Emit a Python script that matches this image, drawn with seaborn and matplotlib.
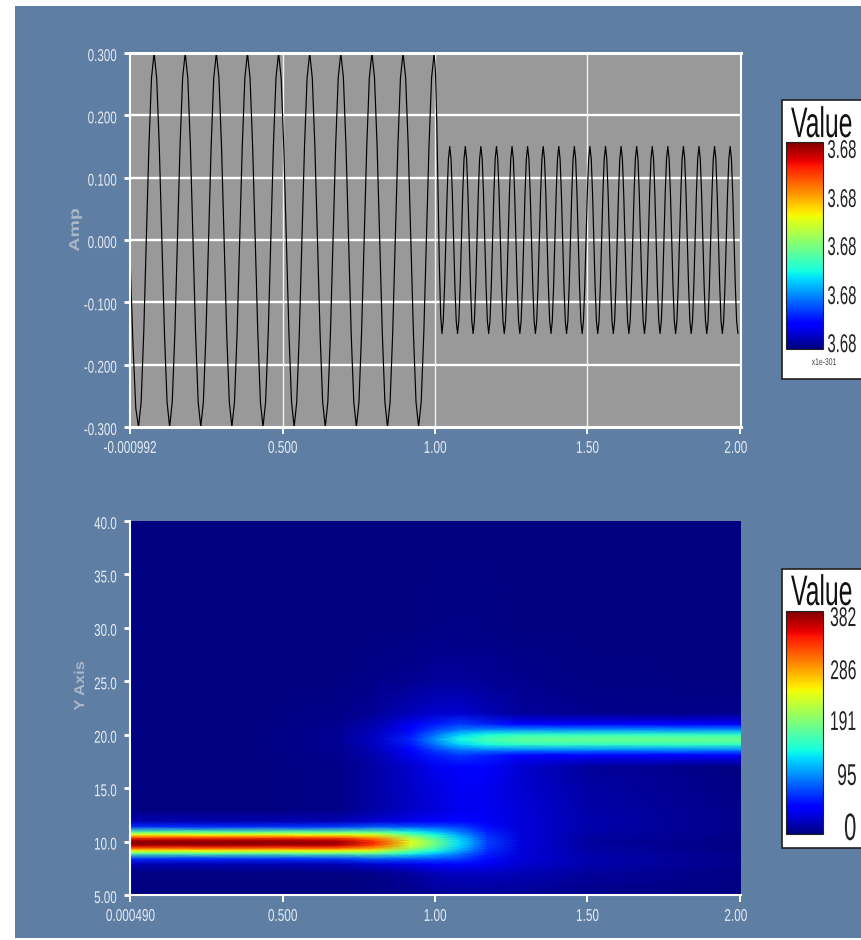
import numpy as np
import pandas as pd
import matplotlib
matplotlib.use("Agg")
import matplotlib.pyplot as plt
from matplotlib.patches import Rectangle
from matplotlib.cm import ScalarMappable
from matplotlib.colors import Normalize
from matplotlib.patheffects import AbstractPathEffect
from matplotlib.transforms import Affine2D
import seaborn as sns

# ---------- data ----------
lead_time = [0.0, 0.009, 0.018]
lead_amp = [-0.04, -0.17, -0.27]
low_step = 0.00851
low_cycle = [-0.30, -0.26, -0.15, 0.0, 0.15, 0.26, 0.30, 0.26, 0.15, 0.0, -0.15, -0.26]
low_first = 0.027
low_half_end = [-0.30, -0.26, -0.15, 0.0, 0.15, 0.26, 0.30]
low_cycles = 9
switch_step = 0.00425
switch_amp = [0.27, 0.19, 0.075, -0.04, -0.12, -0.15]
high_step = 0.00426
high_cycle = [-0.13, -0.075, 0.0, 0.075, 0.13, 0.15, 0.13, 0.075, 0.0, -0.075, -0.13, -0.15]
high_cycles = 19

x_ticks = [-0.000992, 0.5, 1.0, 1.5, 2.0]
x_labels_top = ["-0.000992", "0.500", "1.00", "1.50", "2.00"]
x_ticks_bot = [0.00049, 0.5, 1.0, 1.5, 2.0]
x_labels_bot = ["0.000490", "0.500", "1.00", "1.50", "2.00"]
y_ticks_top = [-0.3, -0.2, -0.1, 0.0, 0.1, 0.2, 0.3]
y_labels_top = ["-0.300", "-0.200", "-0.100", "0.000", "0.100", "0.200", "0.300"]
y_ticks_bot = [5, 10, 15, 20, 25, 30, 35, 40]
y_labels_bot = ["5.00", "10.0", "15.0", "20.0", "25.0", "30.0", "35.0", "40.0"]

heat_t = [0.0, 0.4, 0.68, 0.8, 0.92, 1.0, 1.08, 1.17, 1.28, 1.5, 2.01]
heat_y = [5, 7, 7.9, 8.4, 8.9, 9.15, 9.4, 9.65, 9.9, 10.15, 10.4, 10.65, 10.9, 11.4, 11.9,
          13, 15, 17, 18.1, 18.6, 19.1, 19.56, 20, 20.5, 21, 22, 25, 30, 40]
heat_z = [
    [0, 0, 0, 2, 4, 6, 8, 8, 6, 3, 0],
    [0, 0, 1, 4, 10, 18, 22, 22, 18, 9, 2],
    [17, 17, 19, 28, 36, 45, 50, 40, 28, 15, 3],
    [65, 65, 70, 82, 80, 78, 72, 52, 30, 15, 3],
    [176, 176, 178, 178, 145, 122, 95, 60, 30, 14, 3],
    [245, 245, 244, 234, 179, 146, 109, 64, 31, 13, 2],
    [313, 313, 310, 284, 209, 167, 120, 68, 32, 12, 2],
    [363, 363, 357, 317, 230, 180, 127, 70, 32, 11, 2],
    [382, 382, 375, 330, 237, 185, 130, 72, 32, 10, 1],
    [363, 363, 357, 317, 230, 180, 127, 70, 32, 11, 2],
    [313, 313, 310, 284, 209, 167, 120, 68, 32, 12, 2],
    [245, 245, 244, 234, 179, 146, 109, 64, 31, 13, 2],
    [176, 176, 178, 178, 145, 122, 95, 60, 30, 14, 3],
    [65, 65, 70, 82, 80, 78, 72, 52, 30, 15, 3],
    [17, 17, 19, 28, 36, 45, 50, 40, 30, 15, 3],
    [0, 0, 4, 12, 24, 30, 38, 38, 30, 14, 3],
    [0, 0, 4, 12, 24, 32, 40, 38, 28, 12, 2],
    [0, 0, 4, 12, 26, 38, 46, 42, 28, 10, 1],
    [0, 0, 5, 15, 38, 58, 70, 60, 46, 42, 42],
    [0, 0, 6, 18, 46, 72, 92, 98, 99, 99, 99],
    [0, 0, 7, 21, 56, 92, 126, 146, 156, 158, 158],
    [0, 0, 8, 23, 62, 104, 144, 168, 180, 184, 184],
    [0, 0, 7, 21, 56, 92, 126, 146, 156, 158, 158],
    [0, 0, 6, 18, 46, 72, 92, 98, 99, 99, 99],
    [0, 0, 5, 15, 38, 58, 70, 60, 46, 42, 42],
    [0, 0, 3, 8, 20, 26, 28, 18, 10, 5, 3],
    [0, 0, 1, 3, 7, 10, 10, 8, 5, 2, 0],
    [0, 0, 0, 0, 1, 2, 2, 2, 1, 0, 0],
    [0, 0, 0, 0, 0, 0, 0, 0, 0, 0, 0],
]
heat_max = 382

legend_top_labels = ["3.68", "3.68", "3.68", "3.68", "3.68"]
legend_top_pos = [0.019, 0.251, 0.488, 0.72, 0.957]
legend_top_sizes = [18.5, 18.5, 18.5, 18.5, 18.5]
legend_bot_labels = ["0", "95", "191", "286", "382"]
legend_bot_pos = [0.018, 0.256, 0.498, 0.726, 0.964]
legend_bot_sizes = [27.5, 21.6, 19.5, 19.5, 19.5]

# ---------- assemble the line ----------
amp_list = lead_amp + low_cycle * low_cycles + low_half_end + switch_amp
time_list = list(lead_time)
t = low_first
for _ in range(len(low_cycle) * low_cycles + len(low_half_end)):
    time_list.append(t)
    t += low_step
t -= low_step
for _ in switch_amp:
    t += switch_step
    time_list.append(t)
for v in high_cycle * high_cycles:
    t += high_step
    if t > 2.004:
        break
    time_list.append(t)
    amp_list.append(v)
line_df = pd.DataFrame({"time": time_list, "amp": amp_list})

# ---------- styling ----------
W, H = 861, 940
BG = "#5f7ea3"
TICK = "#e6edf4"
sns.set_theme(style="ticks")
plt.rcParams["font.family"] = ["Liberation Sans", "DejaVu Sans"]


class Squeeze(AbstractPathEffect):
    """Draw real text horizontally condensed about an anchor, as the source's narrow glyphs."""

    def __init__(self, sx, anchor="center", dx=0, dy=0):
        super().__init__()
        self.sx, self.anchor, self.dx, self.dy = sx, anchor, dx, dy

    def draw_path(self, renderer, gc, tpath, affine, rgbFace=None):
        bb = tpath.get_extents()
        a = {"left": bb.x0, "center": (bb.x0 + bb.x1) / 2, "right": bb.x1}[self.anchor]
        tr = (Affine2D().translate(-a, 0).scale(self.sx, 1).translate(a, 0)
              + affine + Affine2D().translate(self.dx, self.dy))
        renderer.draw_path(gc, tpath, tr, rgbFace)


fig = plt.figure(figsize=(W / 100, H / 100), dpi=100, facecolor="white")
fig.patches.append(Rectangle((15 / W, 1 - 938 / H), (W - 15) / W, 932 / H,
                             transform=fig.transFigure, facecolor=BG, edgecolor="none", zorder=-5))


def px_axes(left, top, right, bottom):
    return fig.add_axes([left / W, 1 - bottom / H, (right - left) / W, (bottom - top) / H])


def style_axis(ax):
    ax.tick_params(axis="y", colors="white", length=4, width=2, labelsize=12.3,
                   labelcolor=TICK, pad=5.4)
    ax.tick_params(axis="x", colors="white", length=5, width=1.4, labelsize=12.3,
                   labelcolor=TICK, pad=5)
    for lab in ax.get_yticklabels():
        lab.set_path_effects([Squeeze(0.68, "right", dy=-2)])
    xlabs = ax.get_xticklabels()
    for lab in xlabs:
        lab.set_path_effects([Squeeze(0.69, "center")])
    xlabs[-1].set_path_effects([Squeeze(0.69, "center", dx=-4)])


# ---------- top panel ----------
ax1 = px_axes(130, 53, 741, 427)
ax1.set_facecolor("#999999")
sns.lineplot(data=line_df, x="time", y="amp", color="black", lw=0.85,
             estimator=None, sort=False, ax=ax1, zorder=3)
ax1.set_xlim(-0.001, 2.004)
ax1.set_ylim(-0.3, 0.3)
ax1.set_xticks(x_ticks, x_labels_top)
ax1.set_yticks(y_ticks_top, y_labels_top)
ax1.hlines(y_ticks_top[1:-1], -0.001, 2.004, color="white", lw=1.7, zorder=2)
ax1.vlines([0.5, 1.0, 1.5], -0.3, 0.3, color="#f2f2f2", lw=1.0, zorder=2)
style_axis(ax1)
for s in ax1.spines.values():
    s.set_color("white")
    s.set_linewidth(1.5)
    s.set_zorder(4)
ax1.spines["top"].set_linewidth(2.2)
ax1.spines["bottom"].set_linewidth(2.2)
ax1.set_xlabel("")
ax1.set_ylabel("")
amp_txt = fig.text(75 / W, 1 - 230 / H, "Amp", rotation=90, ha="center", va="center",
                   color="#a9b6c6", fontsize=10.3, fontweight="bold")
amp_txt.set_path_effects([Squeeze(1.37, "center")])

# ---------- bottom panel ----------
ax2 = px_axes(130, 521, 741, 895)
mesh = ax2.pcolormesh(heat_t, heat_y, np.array(heat_z, dtype=float), shading="gouraud",
                      cmap="jet", vmin=0, vmax=heat_max)
ax2.set_xlim(-0.001, 2.004)
ax2.set_ylim(5, 40)
ax2.set_xticks(x_ticks_bot, x_labels_bot)
ax2.set_yticks(y_ticks_bot, y_labels_bot)
style_axis(ax2)
ax2.spines["top"].set_visible(False)
ax2.spines["right"].set_visible(False)
for side in ("left", "bottom"):
    ax2.spines[side].set_color("white")
    ax2.spines[side].set_linewidth(1.5)
yax_txt = fig.text(80 / W, 1 - 686 / H, "Y Axis", rotation=90, ha="center", va="center",
                   color="#a9b6c6", fontsize=10.3, fontweight="bold")
yax_txt.set_path_effects([Squeeze(1.15, "center")])


# ---------- legends ----------
def legend(box_top, box_bottom, bar_top, bar_bottom, title_base, labels, positions, sizes):
    fig.patches.append(Rectangle((782 / W, 1 - box_bottom / H), (W - 782 + 5) / W,
                                 (box_bottom - box_top) / H, transform=fig.transFigure,
                                 facecolor="white", edgecolor="#202020", lw=1.2, zorder=-1))
    cax = px_axes(786, bar_top, 823, bar_bottom)
    cb = fig.colorbar(ScalarMappable(norm=Normalize(0, 1), cmap="jet"), cax=cax)
    cb.set_ticks([])
    cb.outline.set_edgecolor("#222222")
    cb.outline.set_linewidth(0.8)
    for lab, pos, size in zip(labels, positions, sizes):
        y = bar_bottom - pos * (bar_bottom - bar_top)
        txt = fig.text(857 / W, 1 - y / H, lab, ha="right", va="center",
                       fontsize=size, color="#222222")
        txt.set_path_effects([Squeeze(0.58, "right")])
    ttl = fig.text(822 / W, 1 - title_base / H, "Value", ha="center", va="baseline",
                   fontsize=30.7, color="#111111")
    ttl.set_path_effects([Squeeze(0.58, "center")])


legend(100, 379, 142, 349, 137, legend_top_labels, legend_top_pos, legend_top_sizes)
legend(569, 848, 611, 834, 605, legend_bot_labels, legend_bot_pos, legend_bot_sizes)
scale_txt = fig.text(824 / W, 1 - 362 / H, "x1e-301", ha="center", va="center",
                     fontsize=7, color="#444444")
scale_txt.set_path_effects([Squeeze(0.7, "center")])

fig.savefig("out.png", dpi=100)
